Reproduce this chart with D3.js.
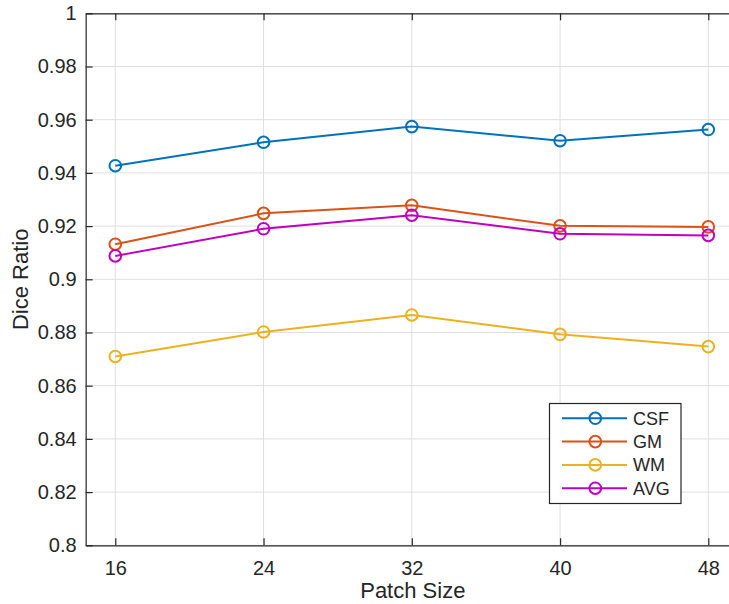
<!DOCTYPE html>
<html>
<head>
<meta charset="utf-8">
<script src="https://cdn.jsdelivr.net/npm/d3@7"></script>
<style>
  body { margin: 0; background: #fff; }
  text { font-family: "Liberation Sans", Arial, sans-serif; fill: #262626; }
</style>
</head>
<body>
<div id="container"></div>
<script>
let patchSizes = [16, 24, 32, 40, 48];
let seriesNames = ["CSF", "GM", "WM", "AVG"];
let seriesColors = ["#0072BD", "#D95319", "#EDB120", "#BF00BF"];
let csf = [0.9427, 0.9515, 0.9574, 0.9521, 0.9563];
let gm  = [0.9132, 0.9248, 0.9278, 0.9201, 0.9197];
let wm  = [0.8710, 0.8802, 0.8866, 0.8793, 0.8747];
let avg = [0.9088, 0.9190, 0.9241, 0.9171, 0.9165];
let yTicks = [0.8, 0.82, 0.84, 0.86, 0.88, 0.9, 0.92, 0.94, 0.96, 0.98, 1];

let w = 729;
let h = 604;
let padLeft = 85.65, padRight = 737.95, padTop = 13.3, padBottom = 545.3;

let viz = d3.select("#container")
  .append("svg")
    .attr("width", w)
    .attr("height", h)
;

let xScale = d3.scaleLinear().domain([14.4, 49.6]).range([padLeft, padRight]);
let yScale = d3.scaleLinear().domain([0.8, 1]).range([padBottom, padTop]);

// grid
viz.append("g").selectAll("line").data(patchSizes).enter().append("line")
    .attr("x1", d => xScale(d)).attr("x2", d => xScale(d))
    .attr("y1", padTop).attr("y2", padBottom)
    .attr("stroke", "#dfdfdf").attr("stroke-width", 1)
;
viz.append("g").selectAll("line").data(yTicks).enter().append("line")
    .attr("x1", padLeft).attr("x2", padRight)
    .attr("y1", d => yScale(d)).attr("y2", d => yScale(d))
    .attr("stroke", "#dfdfdf").attr("stroke-width", 1)
;

// axes (matlab style, ticks inside)
function styleAxis(g){
  g.select(".domain").attr("stroke", "#262626").attr("stroke-width", 1.2);
  g.selectAll(".tick line").attr("stroke", "#262626").attr("stroke-width", 1.2);
  g.selectAll(".tick text").attr("fill", "#262626")
    .style("font-family", "'Liberation Sans', Arial, sans-serif").style("font-size", "20px");
}

let xAxis = d3.axisBottom(xScale).tickValues(patchSizes).tickSizeInner(-7).tickSizeOuter(0).tickPadding(16);
let xAxisGroup = viz.append("g")
    .attr("transform", "translate(0," + padBottom + ")")
    .call(xAxis);
styleAxis(xAxisGroup);

let xAxisTop = d3.axisTop(xScale).tickValues(patchSizes).tickSizeInner(-7).tickSizeOuter(0).tickFormat("");
let xTopGroup = viz.append("g")
    .attr("transform", "translate(0," + padTop + ")")
    .call(xAxisTop);
styleAxis(xTopGroup);

let yAxis = d3.axisLeft(yScale).tickValues(yTicks).tickSizeInner(-7).tickSizeOuter(0).tickPadding(9)
    .tickFormat(d => d3.format("")(+d.toFixed(2)));
let yAxisGroup = viz.append("g")
    .attr("transform", "translate(" + padLeft + ",0)")
    .call(yAxis);
styleAxis(yAxisGroup);

// axis labels
viz.append("text")
    .attr("x", (padLeft + padRight) / 2 + 1)
    .attr("y", 598)
    .attr("text-anchor", "middle")
    .style("font-size", "22px")
    .text("Patch Size")
;
viz.append("text")
    .attr("transform", "translate(28," + ((padTop + padBottom) / 2) + ") rotate(-90)")
    .attr("text-anchor", "middle")
    .style("font-size", "22px")
    .text("Dice Ratio")
;

// lines
let allSeries = [csf, gm, wm, avg];
let lineMaker = d3.line()
    .x((d, i) => xScale(patchSizes[i]))
    .y(d => yScale(d))
;

allSeries.forEach(function(values, s){
  viz.append("path")
      .datum(values)
      .attr("d", lineMaker)
      .attr("fill", "none")
      .attr("stroke", seriesColors[s])
      .attr("stroke-width", 2)
  ;
  viz.append("g").selectAll("circle").data(values).enter().append("circle")
      .attr("cx", (d, i) => xScale(patchSizes[i]))
      .attr("cy", d => yScale(d))
      .attr("r", 5.8)
      .attr("fill", "none")
      .attr("stroke", seriesColors[s])
      .attr("stroke-width", 2)
  ;
});

// legend
let legend = viz.append("g");
legend.append("rect")
    .attr("x", 549.5).attr("y", 403.5)
    .attr("width", 131.5).attr("height", 100)
    .attr("fill", "#fff").attr("stroke", "#262626").attr("stroke-width", 1.2)
;
seriesNames.forEach(function(name, i){
  let yy = 418.3 + i * 23.3;
  legend.append("line")
      .attr("x1", 562).attr("x2", 627)
      .attr("y1", yy).attr("y2", yy)
      .attr("stroke", seriesColors[i]).attr("stroke-width", 2)
  ;
  legend.append("circle")
      .attr("cx", 595.3).attr("cy", yy).attr("r", 5.8)
      .attr("fill", "none").attr("stroke", seriesColors[i]).attr("stroke-width", 2)
  ;
  legend.append("text")
      .attr("x", 633).attr("y", yy + 6.3)
      .style("font-size", "18px")
      .text(name)
  ;
});
</script>
</body>
</html>
